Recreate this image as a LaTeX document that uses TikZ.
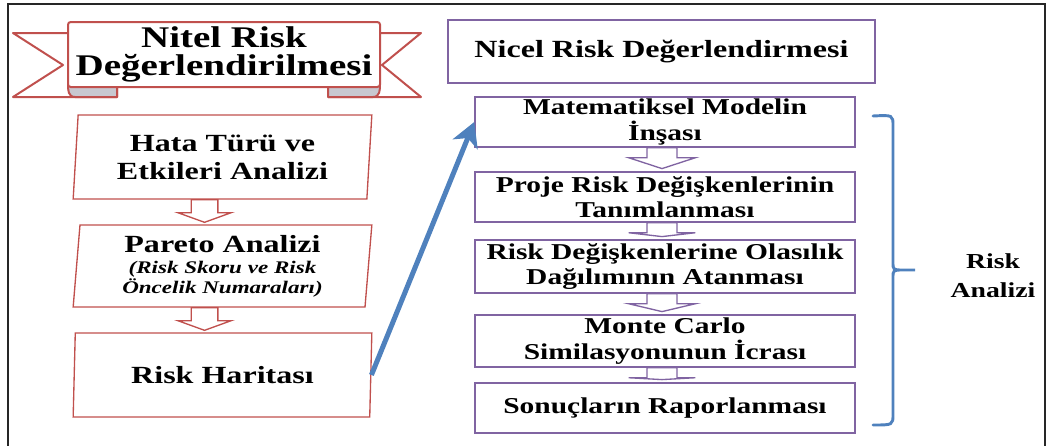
\documentclass[tikz,border=0pt]{standalone}
\usepackage{fontspec}
\setmainfont{Liberation Serif}[FakeStretch=1.3]
\usetikzlibrary{shapes.geometric,arrows.meta,calc}

\definecolor{boxred}{RGB}{192,80,77}
\definecolor{lilac}{RGB}{128,100,162}
\definecolor{arrowblue}{RGB}{79,129,189}
\definecolor{foldgray}{RGB}{200,200,208}

\begin{document}
\begin{tikzpicture}[x=0.75pt,y=-0.75pt,
    redline/.style={draw=boxred, line width=1.5pt, line join=round},
    lbox/.style={trapezium, trapezium left angle=84, trapezium right angle=96,
        trapezium stretches body, draw=boxred, line width=1pt,
        minimum width=224pt, minimum height=63pt, align=center, inner sep=1pt,
        font=\fontsize{18.5}{21}\selectfont\bfseries},
    rbox/.style={rectangle, draw=lilac, line width=1.1pt, minimum width=285pt,
        minimum height=37.5pt, align=center, inner sep=1pt,
        font=\fontsize{17}{19}\selectfont\bfseries},
    hollow/.style={line width=1pt, fill=white, line join=miter}]
    \useasboundingbox (0,0) rectangle (1049,446);

    % outer frame
    \draw[black!85, line width=2pt] (8,446) -- (8,4) -- (1045,4) -- (1045,446);

    % ribbon title
    \draw[redline, fill=white] (117,33) -- (13,33) -- (63,65) -- (13,97) -- (117,97) -- cycle;
    \draw[redline, fill=white] (328,33) -- (421,33) -- (382,65) -- (421,97) -- (328,97) -- cycle;
    \draw[redline, fill=foldgray] (117,84) -- (117,97) -- (75,97) .. controls (68,97) and (68,90) .. (68,84);
    \draw[redline, fill=foldgray] (328,84) -- (328,97) -- (373,97) .. controls (380,97) and (380,90) .. (380,84);
    \node[draw=boxred, line width=1.5pt, fill=white, rounded corners=2pt,
        minimum width=234pt, minimum height=48.75pt, align=center, inner sep=1pt,
        font=\fontsize{22.5}{21}\selectfont\bfseries] (nitel) at (224,54.5) {Nitel Risk\\Değerlendirilmesi};

    % left column
    \node[lbox] (hata) at (222.5,157) {Hata Türü ve\\Etkileri Analizi};
    \node[lbox, minimum height=61.5pt] (pareto) at (222.5,266) {Pareto Analizi\\[-5pt]
        {\fontsize{13.3}{15}\selectfont\itshape (Risk Skoru ve Risk}\\[-6pt]
        {\fontsize{13.3}{15}\selectfont\itshape Öncelik Numaraları)}};
    \node[lbox] (harita) at (222.5,375) {Risk Haritası};

    \foreach \a/\b in {hata/pareto, pareto/harita}
        \draw[hollow, draw=boxred] let \p1=($(\a.south)+(-18,0)$), \p2=(\b.north) in
            (\x1-10pt,\y1) -- (\x1-10pt,\y1-9.75pt) -- (\x1-20pt,\y1-9.75pt) -- (\x1,\y2+1.5pt)
            -- (\x1+20pt,\y1-9.75pt) -- (\x1+10pt,\y1-9.75pt) -- (\x1+10pt,\y1) -- cycle;

    % right column
    \node[draw=lilac, line width=1.8pt, minimum width=320pt, minimum height=47pt,
        font=\fontsize{18.5}{19}\selectfont\bfseries] (nicel) at (661.5,51.5) {Nicel Risk Değerlendirmesi};
    \node[rbox] (mat) at (665,122) {Matematiksel Modelin\\İnşası};
    \node[rbox] (proje) at (665,197) {Proje Risk Değişkenlerinin\\Tanımlanması};
    \node[rbox, minimum height=39.75pt] (olasilik) at (665,266.5) {Risk Değişkenlerine Olasılık\\Dağılımının Atanması};
    \node[rbox, minimum height=39pt] (monte) at (665,341) {Monte Carlo\\Similasyonunun İcrası};
    \node[rbox] (sonuc) at (665,408) {Sonuçların Raporlanması};

    \foreach \a/\b in {mat/proje, proje/olasilik, olasilik/monte, monte/sonuc}
        \draw[hollow, draw=lilac] let \p1=($(\a.south)+(-3,0)$), \p2=(\b.north) in
            (\x1-11.25pt,\y1) -- (\x1-11.25pt,\y1-7.5pt) -- (\x1-25pt,\y1-7.5pt) -- (\x1,\y2+2pt)
            -- (\x1+25pt,\y1-7.5pt) -- (\x1+11.25pt,\y1-7.5pt) -- (\x1+11.25pt,\y1) -- cycle;

    % link
    \draw[arrowblue, line width=3.75pt, -{Stealth[length=18pt,width=20pt,inset=5pt]}] (harita.east) -- (mat.west);

    % brace
    \draw[arrowblue, line width=2.2pt, line cap=round]
        (873,116) .. controls (893,115) .. (893,126) -- (893,262)
        .. controls (893,270) .. (903,270) -- (915,270) -- (903,270)
        .. controls (893,270) .. (893,278) -- (893,414)
        .. controls (893,425) .. (873,425);
    \node[align=center, font=\fontsize{16}{21.5}\selectfont\bfseries] (analiz) at (993,276) {Risk\\Analizi};
\end{tikzpicture}
\end{document}
